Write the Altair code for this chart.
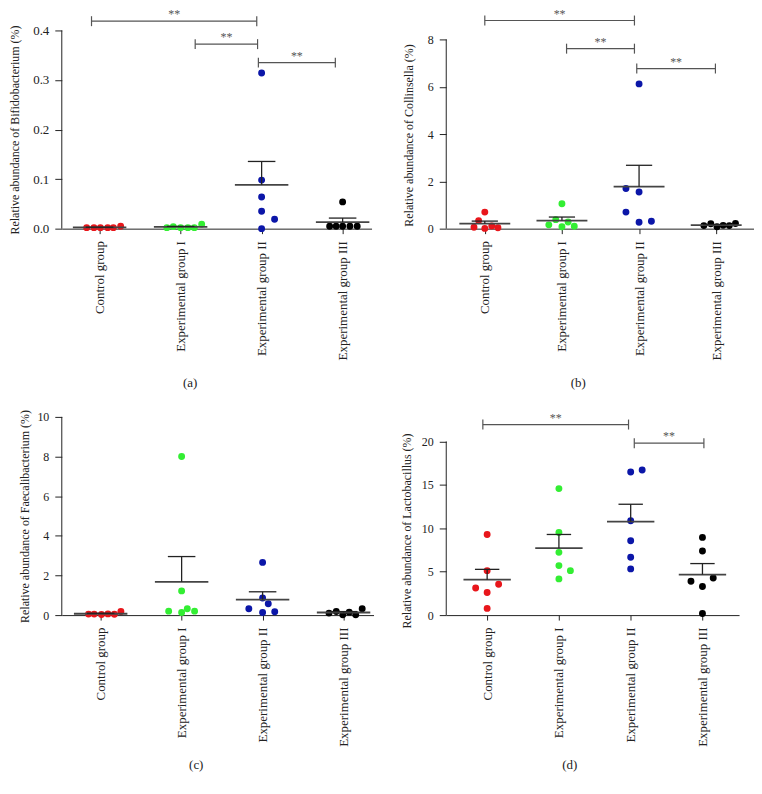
import json
import altair as alt
import pandas as pd

SERIF = "Liberation Serif"

groups = ["Control group", "Experimental group I", "Experimental group II", "Experimental group III"]
group_colors = ["#e8161b", "#33ee33", "#0b16a8", "#000000"]

# (a) Bifidobacterium
bif_values = [
    [0.002, 0.002, 0.002, 0.002, 0.002, 0.005],
    [0.002, 0.004, 0.002, 0.002, 0.002, 0.009],
    [0.314, 0.098, 0.064, 0.035, 0.019, 0.000],
    [0.005, 0.005, 0.005, 0.005, 0.005, 0.054],
]
bif_jitter = [
    [-0.16, -0.07, 0.01, 0.10, 0.17, 0.26],
    [-0.17, -0.09, 0.00, 0.09, 0.17, 0.26],
    [0.00, 0.00, 0.00, 0.00, 0.16, 0.00],
    [-0.16, -0.08, 0.00, 0.09, 0.18, 0.00],
]
bif_brackets = {"x1": [-0.10, 1.18, 1.96], "x2": [1.94, 1.95, 2.91], "level": [0.4187, 0.3724, 0.3351]}

# (b) Collinsella
col_values = [
    [0.70, 0.34, 0.06, 0.01, 0.11, 0.04],
    [1.05, 0.38, 0.28, 0.16, 0.08, 0.10],
    [6.12, 1.70, 1.55, 0.70, 0.27, 0.31],
    [0.13, 0.21, 0.08, 0.14, 0.13, 0.22],
]
col_jitter = [
    [0.00, -0.08, -0.14, 0.00, 0.09, 0.17],
    [0.00, -0.08, 0.08, -0.17, 0.00, 0.16],
    [0.00, -0.17, 0.00, -0.17, 0.00, 0.16],
    [-0.16, -0.07, 0.01, 0.09, 0.17, 0.25],
]
col_brackets = {"x1": [0.00, 1.06, 1.97], "x2": [1.94, 1.94, 2.99], "level": [8.80, 7.61, 6.77]}

# (c) Faecalibacterium
fae_values = [
    [0.05, 0.05, 0.03, 0.06, 0.04, 0.18],
    [8.00, 1.22, 0.20, 0.13, 0.32, 0.20],
    [2.66, 0.86, 0.57, 0.32, 0.13, 0.17],
    [0.10, 0.18, 0.02, 0.15, 0.02, 0.32],
]
fae_jitter = [
    [-0.15, -0.08, 0.01, 0.09, 0.17, 0.25],
    [0.00, 0.00, -0.16, 0.00, 0.07, 0.16],
    [0.00, 0.00, 0.07, -0.17, 0.00, 0.15],
    [-0.18, -0.09, -0.01, 0.07, 0.15, 0.23],
]
fae_brackets = {"x1": [], "x2": [], "level": []}

# (d) Lactobacillus
lac_values = [
    [9.29, 5.12, 3.13, 3.56, 2.60, 0.77],
    [14.57, 9.52, 7.23, 5.70, 5.12, 4.17],
    [16.49, 16.72, 10.87, 8.57, 6.66, 5.32],
    [8.95, 7.38, 3.90, 4.28, 3.29, 0.19],
]
lac_jitter = [
    [0.00, 0.00, -0.16, 0.16, 0.00, 0.00],
    [0.00, 0.00, 0.00, 0.00, 0.16, 0.00],
    [0.00, 0.16, 0.00, 0.00, 0.00, 0.00],
    [0.00, 0.00, -0.16, 0.15, 0.00, 0.00],
]
lac_brackets = {"x1": [-0.06, 2.05], "x2": [1.97, 3.02], "level": [21.95, 19.80]}

PLOT_H = 199
label_expr = json.dumps(groups) + "[datum.value]"


def panel(values, jitter, brackets, ytitle, ticks, fmt, ytop, xdomain, width,
          caption, title_pad, title_y=None, label_size=12, cap_offset=13):
    rows = []
    for gi, g in enumerate(groups):
        for v, dx in zip(values[gi], jitter[gi]):
            rows.append({"g": gi, "dx": dx, "v": v, "grp": g})
    df = pd.DataFrame(rows)
    xs = alt.Scale(domain=xdomain, nice=False, zero=False)
    ys = alt.Scale(domain=[0, ytop], nice=False, zero=False)

    xaxis = alt.Axis(values=[0, 1, 2, 3], labelExpr=label_expr, title=None, grid=False,
                     labelAngle=270, labelFont=SERIF, labelFontSize=13, labelColor="#222",
                     tickSize=5, tickColor="#222", domainColor="#222", labelPadding=7)
    yaxis_kw = dict(values=ticks, format=fmt, title=ytitle, grid=False, domain=False,
                    tickSize=7, tickColor="#222", labelFont=SERIF, labelFontSize=label_size,
                    labelColor="#222", labelPadding=6, titleFont=SERIF, titleFontSize=12,
                    titleFontWeight="normal", titleColor="#222", titlePadding=title_pad)
    if title_y is not None:
        yaxis_kw["titleY"] = title_y
    yaxis = alt.Axis(**yaxis_kw)

    def X(field):
        return alt.X(field, scale=xs, axis=xaxis)

    def Y(field):
        return alt.Y(field, scale=ys, axis=yaxis)

    base = alt.Chart(df)
    yline = alt.Chart(pd.DataFrame({"y0": [0], "y1": [ticks[-1]]})).mark_rule(
        color="#222", strokeWidth=1).encode(
        x=alt.value(0), y=Y("y0:Q"), y2="y1:Q")

    points = base.transform_calculate(xp="datum.g + datum.dx").mark_circle(
        size=48, opacity=1).encode(
        x=X("xp:Q"),
        y=Y("v:Q"),
        color=alt.Color("grp:N", scale=alt.Scale(domain=groups, range=group_colors), legend=None),
    )
    stats = base.transform_aggregate(
        m="mean(v)", se="stderr(v)", groupby=["g"]
    ).transform_calculate(
        up="datum.m + datum.se", ml="datum.g - 0.33", mr="datum.g + 0.33",
        cl="datum.g - 0.17", cr="datum.g + 0.17")
    mean_rule = stats.mark_rule(color="#444", strokeWidth=1.8).encode(
        x=X("ml:Q"), x2="mr:Q", y=Y("m:Q"))
    err = stats.mark_rule(color="#222", strokeWidth=1.3).encode(
        x=X("g:Q"), y=Y("m:Q"), y2="up:Q")
    cap = stats.mark_rule(color="#222", strokeWidth=1.3).encode(
        x=X("cl:Q"), x2="cr:Q", y=Y("up:Q"))

    layers = [yline, points, mean_rule, err, cap]
    if len(brackets["level"]) > 0:
        bdf = pd.DataFrame(brackets)
        bdf["lab"] = "**"
        bb = alt.Chart(bdf)
        hline = bb.mark_rule(color="#555", strokeWidth=1.2).encode(
            x=X("x1:Q"), x2="x2:Q", y=Y("level:Q"))
        lt = bb.mark_rule(color="#555", strokeWidth=1.2, yOffset=-5, y2Offset=5).encode(
            x=X("x1:Q"), y=Y("level:Q"), y2="level:Q")
        rt = bb.mark_rule(color="#555", strokeWidth=1.2, yOffset=-5, y2Offset=5).encode(
            x=X("x2:Q"), y=Y("level:Q"), y2="level:Q")
        txt = bb.transform_calculate(xm="(datum.x1 + datum.x2) / 2").mark_text(
            font=SERIF, fontSize=12, color="#555", dy=0, baseline="bottom").encode(
            x=X("xm:Q"), y=Y("level:Q"), text="lab:N")
        layers += [hline, lt, rt, txt]

    return alt.layer(*layers).properties(
        width=width, height=PLOT_H,
        title=alt.TitleParams(text=caption, orient="bottom", anchor="middle", frame="bounds",
                              font=SERIF, fontSize=13, fontWeight="normal", color="#222",
                              offset=cap_offset),
    )


pa = panel(bif_values, bif_jitter, bif_brackets, "Relative abundance of Bifidobacterium (%)",
           [0, 0.1, 0.2, 0.3, 0.4], ".1f", 0.4, [-0.467, 3.357], 311, "(a)", 11,
           label_size=13, cap_offset=17)
pb = panel(col_values, col_jitter, col_brackets, "Relative abundance of Collinsella (%)",
           [0, 2, 4, 6, 8], "d", 8.38, [-0.50, 3.49], 309, "(b)", 12, title_y=105, cap_offset=17)
pc = panel(fae_values, fae_jitter, fae_brackets, "Relative abundance of Faecalibacterium (%)",
           [0, 2, 4, 6, 8, 10], "d", 10.0, [-0.48, 3.37], 313, "(c)", 5)
pd_ = panel(lac_values, lac_jitter, lac_brackets, "Relative abundance of Lactobacillus (%)",
            [0, 5, 10, 15, 20], "d", 22.83, [-0.57, 3.51], 294, "(d)", 8, title_y=114)

chart = alt.concat(pa, pb, pc, pd_, columns=2, spacing={"row": 19, "column": 27}).configure_view(
    stroke=None).properties(padding={"top": -2, "left": 0, "right": 0, "bottom": 0},
                            background="white")

chart.save("out.html", embed_options={"renderer": "svg", "actions": False})
